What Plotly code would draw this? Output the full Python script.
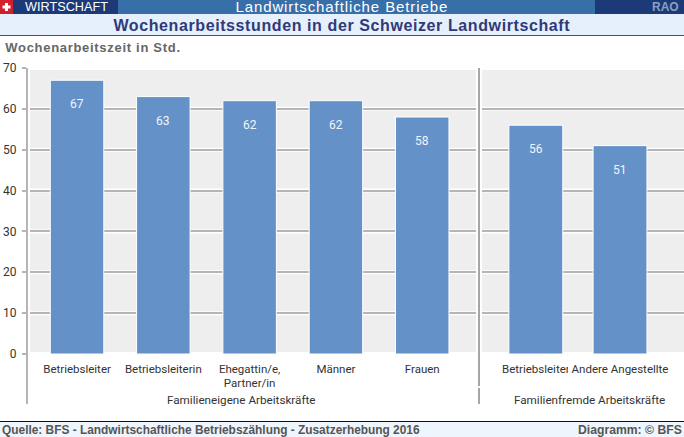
import plotly.graph_objects as go

W, H = 684, 437

# Data
family_categories = ["Betriebsleiter", "Betriebsleiterin", "Ehegattin/e,<br>Partner/in", "Männer", "Frauen"]
family_values = [67, 63, 62, 62, 58]
external_categories = ["Betriebsleiter", "Andere Angestellte"]
external_values = [56, 51]
y_ticks = [0, 10, 20, 30, 40, 50, 60, 70]

BAR = "#6491c8"
GRID = "#b5b5b5"
BG = "#eeeeee"
CHART_FONT = "Roboto"
HEAD_FONT = "Liberation Sans"


def px(x):
    return x / W


def py(y):
    return 1 - y / H


def rect(x0, y0, x1, y1, color):
    return dict(type="rect", xref="paper", yref="paper", x0=px(x0), x1=px(x1), y0=py(y0), y1=py(y1),
                fillcolor=color, line=dict(width=0), layer="above")


def vline(x, y0, y1, color=GRID, width=2, layer="above"):
    return dict(type="line", xref="paper", yref="paper", x0=px(x), x1=px(x), y0=py(y0), y1=py(y1),
                line=dict(color=color, width=width), layer=layer)


def text(x, y, s, size, color, anchor="left", font=CHART_FONT, bold=False):
    return dict(xref="paper", yref="paper", x=px(x), y=py(y), text=f"<b>{s}</b>" if bold else s,
                showarrow=False, xanchor=anchor, yanchor="middle", borderpad=0, borderwidth=0,
                font=dict(family=font, size=size, color=color))


fig = go.Figure()
fig.add_trace(go.Bar(x=family_categories, y=family_values, xaxis="x", yaxis="y",
                     marker=dict(color=BAR, line=dict(color="white", width=1)), width=0.62,
                     hoverinfo="skip", showlegend=False))
fig.add_trace(go.Bar(x=external_categories, y=external_values, xaxis="x2", yaxis="y2",
                     marker=dict(color=BAR, line=dict(color="white", width=1)), width=0.64,
                     hoverinfo="skip", showlegend=False))

shapes = []
# white halo under gridlines
for axes, (xr, yr) in {"a": ("x domain", "y"), "b": ("x2 domain", "y2")}.items():
    for t in y_ticks:
        shapes.append(dict(type="line", xref=xr, yref=yr, x0=0, x1=1, y0=t, y1=t,
                           line=dict(color="white", width=4), layer="below"))

# header and footer bands
shapes += [
    rect(0, 0, W, 14, "#396fa8"),
    rect(13, 0, 118, 14, "#1c3a78"),
    rect(595, 0, W, 14, "#1c3a78"),
    rect(0, 0, 13, 14, "#d21f2b"),
    rect(5, 3, 8, 11, "white"),
    rect(2.5, 5.5, 10.5, 8.5, "white"),
    rect(0, 14, W, 35, "#e6effc"),
    rect(0, 35, W, 36, "#2c5794"),
    rect(0, 421, W, 437, "#eef5fd"),
    rect(0, 421, W, 422, "#111111"),
    # axis and separator lines running down through the label zone
    vline(29, 68, 354, "white", 2),
    vline(481, 68, 354, "white", 2),
    vline(477, 68, 354, "white", 2),
    vline(27, 68, 404),
    vline(479, 68, 386, "#a6a6a6"),
    vline(479, 388, 404, "#a6a6a6"),
    # the neighbouring label cuts off the end of this one in the reference
    rect(568, 360, 571, 375, "white"),
]

annotations = []
for axes, cats, vals in (("", family_categories, family_values), ("2", external_categories, external_values)):
    for c, v in zip(cats, vals):
        annotations.append(dict(xref="x" + axes, yref="y" + axes, x=c, y=v, text=str(v), yshift=-24,
                                showarrow=False, yanchor="middle",
                                font=dict(family=CHART_FONT, size=12, color="#f2f5fa")))

annotations += [
    text(25, 7, "WIRTSCHAFT", 12.7, "white", font=HEAD_FONT),
    text(342, 7, "Landwirtschaftliche Betriebe", 15, "white", "center", HEAD_FONT),
    text(665, 7, "RAO", 12, "#8ba0c2", "center", HEAD_FONT, True),
    text(342, 25, "Wochenarbeitsstunden in der Schweizer Landwirtschaft", 16, "#2f3a78", "center", HEAD_FONT, True),
    text(93, 48, "Wochenarbeitszeit in Std.", 13, "#666666", "center", HEAD_FONT, True),
    text(241.5, 400, "Familieneigene Arbeitskräfte", 11.7, "#333333", "center"),
    text(589, 400, "Familienfremde Arbeitskräfte", 11.7, "#333333", "center"),
    text(2, 429.5, "Quelle: BFS - Landwirtschaftliche Betriebszählung - Zusatzerhebung 2016", 11.9, "#555555", "left", HEAD_FONT, True),
    text(682, 429.5, "Diagramm: © BFS", 12.2, "#555555", "right", HEAD_FONT, True),
]

y_axis = dict(range=[0, 70], tickvals=y_ticks, gridcolor=GRID, gridwidth=2, zeroline=False, showline=False,
              domain=[py(354), py(68)], ticks="outside", ticklen=4, tickcolor=GRID, tickwidth=2,
              ticklabelstandoff=3,
              tickfont=dict(family=CHART_FONT, size=12, color="#333333"))

x_axis = dict(showgrid=False, zeroline=False, showline=False, ticks="", type="category", ticklabelstandoff=6,
              tickfont=dict(family=CHART_FONT, size=11.5, color="#333333"), tickangle=0, automargin=False)

fig.update_layout(
    width=W, height=H, margin=dict(l=0, r=0, t=0, b=0, autoexpand=False),
    paper_bgcolor="white", plot_bgcolor=BG, barmode="overlay",
    xaxis={**x_axis, "domain": [px(27), px(479)], "range": [-0.58, 4.658]},
    xaxis2={**x_axis, "domain": [px(479), 1], "range": [-0.675, 1.76]},
    yaxis={**y_axis, "anchor": "x"},
    yaxis2={**y_axis, "anchor": "x2", "showticklabels": False, "ticks": ""},
    shapes=shapes, annotations=annotations,
)

post = """
document.body.style.margin='0';
var spacing={'Landwirtschaftliche Betriebe':'0.9px','Wochenarbeitsstunden in der Schweizer Landwirtschaft':'0.6px','Wochenarbeitszeit in Std.':'0.7px'};
document.querySelectorAll('.annotation-text').forEach(function(t){
  var s=spacing[t.textContent]; if(s){t.style.letterSpacing=s;}
});
"""
fig.write_html("out.html", config={"displayModeBar": False}, post_script=post)
